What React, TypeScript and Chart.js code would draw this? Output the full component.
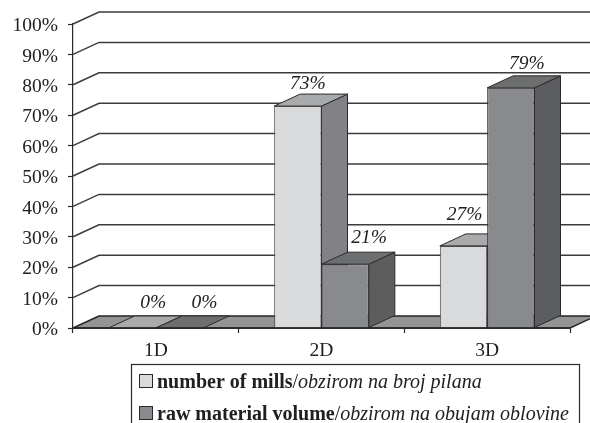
import React, { useEffect, useRef } from "react";
import { Chart, registerables } from "chart.js";

Chart.register(...registerables);

const categories = ["1D", "2D", "3D"];
const millsValues = [0, 73, 27];
const volumeValues = [0, 21, 79];
const millsLabel = "number of mills/obzirom na broj pilana";
const volumeLabel = "raw material volume/obzirom na obujam oblovine";

const FONT = '"Liberation Serif"';
const INK = "#202020";
const DEPTH_X = 26;
const DEPTH_Y = -12;

// hand-placed label offsets from the top-centre of each bar's front face [dx, dy]
const labelOffsets = [
  [[21, -25], [10, -22], [1, -31]],
  [[25, -25], [24, -26], [16, -24]],
];

const faceStyles = [
  { front: "#d9dadc", side: "#808285", top: "#a9aaac", edge: "#4a4a4a" },
  { front: "#898a8d", side: "#5c5d5f", top: "#6d6e70", edge: "#2a2a2a" },
];

function poly(ctx: CanvasRenderingContext2D, pts: number[][], fill: string, stroke: string, lw = 1) {
  ctx.beginPath();
  pts.forEach((p, i) => (i ? ctx.lineTo(p[0], p[1]) : ctx.moveTo(p[0], p[1])));
  ctx.closePath();
  ctx.fillStyle = fill;
  ctx.fill();
  ctx.lineWidth = lw;
  ctx.strokeStyle = stroke;
  ctx.lineJoin = "round";
  ctx.stroke();
}

function drawDepth(chart: any, index: number) {
  const { ctx } = chart;
  const style = faceStyles[index];
  const meta = chart.getDatasetMeta(index);
  ctx.save();
  meta.data.forEach((bar: any) => {
    const l = bar.x - bar.width / 2;
    const r = bar.x + bar.width / 2;
    const t = bar.y;
    const b = bar.base;
    if (b - t > 0.5) {
      poly(
        ctx,
        [
          [r, t],
          [r + DEPTH_X, t + DEPTH_Y],
          [r + DEPTH_X, b + DEPTH_Y],
          [r, b],
        ],
        style.side,
        "#2a2a2a"
      );
    }
    poly(
      ctx,
      [
        [l, t],
        [l + DEPTH_X, t + DEPTH_Y],
        [r + DEPTH_X, t + DEPTH_Y],
        [r, t],
      ],
      style.top,
      "#2a2a2a"
    );
  });
  ctx.restore();
}

const wallPlugin = {
  id: "wall3d",
  beforeDatasetsDraw(chart: any) {
    const { ctx, chartArea, scales } = chart;
    const { left, right } = chartArea;
    const y0 = scales.y.getPixelForValue(0);
    ctx.save();
    scales.y.ticks.forEach((t: any) => {
      if (t.value === 0) return;
      const y = scales.y.getPixelForValue(t.value);
      ctx.beginPath();
      ctx.moveTo(left, y);
      ctx.lineTo(left + DEPTH_X, y + DEPTH_Y);
      ctx.lineTo(right + DEPTH_X, y + DEPTH_Y);
      ctx.lineWidth = 1.5;
      ctx.strokeStyle = "#3c3c3c";
      ctx.stroke();
    });
    poly(
      ctx,
      [
        [left, y0],
        [left + DEPTH_X, y0 + DEPTH_Y],
        [right + DEPTH_X, y0 + DEPTH_Y],
        [right, y0],
      ],
      "#939496",
      "#262626",
      1.4
    );
    ctx.restore();
    // the first series' depth goes down first so the neighbouring bar covers it
    drawDepth(chart, 0);
  },
  afterDatasetDraw(chart: any, args: any) {
    if (args.index === 1) drawDepth(chart, 1);
  },
  afterDatasetsDraw(chart: any) {
    const { ctx, chartArea, scales } = chart;
    const y0 = scales.y.getPixelForValue(0);
    ctx.save();
    // front floor edge
    ctx.beginPath();
    ctx.moveTo(chartArea.left, y0);
    ctx.lineTo(chartArea.right, y0);
    ctx.lineWidth = 1.4;
    ctx.strokeStyle = "#262626";
    ctx.stroke();
    // value labels
    ctx.font = `italic 19.5px ${FONT}`;
    ctx.fillStyle = INK;
    ctx.textAlign = "center";
    ctx.textBaseline = "middle";
    chart.data.datasets.forEach((ds: any, d: number) => {
      chart.getDatasetMeta(d).data.forEach((bar: any, i: number) => {
        const [dx, dy] = labelOffsets[d][i];
        ctx.fillText(`${ds.data[i]}%`, bar.x + dx, bar.y + dy);
      });
    });
    // legend
    const box = { x: 131.5, y: 364.5, w: 448, h: 70 };
    ctx.fillStyle = "#ffffff";
    ctx.fillRect(box.x, box.y, box.w, box.h);
    ctx.lineWidth = 1.2;
    ctx.strokeStyle = "#2a2a2a";
    ctx.strokeRect(box.x, box.y, box.w, box.h);
    ctx.textAlign = "left";
    ctx.textBaseline = "alphabetic";
    chart.data.datasets.forEach((ds: any, d: number) => {
      const rowY = 374.5 + d * 32;
      ctx.fillStyle = faceStyles[d].front;
      ctx.fillRect(139.5, rowY, 13, 13);
      ctx.lineWidth = 1;
      ctx.strokeStyle = "#2a2a2a";
      ctx.strokeRect(139.5, rowY, 13, 13);
      const [strong, soft] = ds.label.split("/");
      const base = rowY + 13;
      ctx.fillStyle = INK;
      let x = 157;
      ctx.font = `bold 20px ${FONT}`;
      ctx.fillText(strong, x, base);
      x += ctx.measureText(strong).width;
      ctx.font = `20px ${FONT}`;
      ctx.fillText("/", x, base);
      x += ctx.measureText("/").width;
      ctx.font = `italic 20px ${FONT}`;
      ctx.fillText(soft, x, base);
    });
    ctx.restore();
  },
};

export default function App() {
  const ref = useRef<HTMLCanvasElement>(null);
  useEffect(() => {
    const chart = new Chart(ref.current!, {
      type: "bar",
      data: {
        labels: categories,
        datasets: [
          {
            label: millsLabel,
            data: millsValues,
            backgroundColor: faceStyles[0].front,
            borderColor: faceStyles[0].edge,
            borderWidth: 1,
          },
          {
            label: volumeLabel,
            data: volumeValues,
            backgroundColor: faceStyles[1].front,
            borderColor: faceStyles[1].edge,
            borderWidth: 1,
          },
        ],
      },
      options: {
        responsive: false,
        animation: false,
        layout: { padding: { top: 24, right: 20, left: 0, bottom: 0 } },
        datasets: { bar: { barPercentage: 1, categoryPercentage: 2 / 3.5 } },
        plugins: { legend: { display: false }, tooltip: { enabled: false }, title: { display: false } },
        scales: {
          x: {
            afterFit(s: any) {
              s.height = 95;
            },
            grid: { drawOnChartArea: false, drawTicks: true, tickLength: 5, tickColor: "#2a2a2a", tickWidth: 1.2 },
            border: { color: "#2a2a2a", width: 1.4 },
            ticks: { color: INK, font: { family: FONT, size: 19.5 }, padding: 6, maxRotation: 0 },
          },
          y: {
            min: 0,
            max: 100,
            afterFit(s: any) {
              s.width = 73;
            },
            grid: { drawOnChartArea: false, drawTicks: true, tickLength: 5, tickColor: "#2a2a2a", tickWidth: 1.2 },
            border: { color: "#2a2a2a", width: 1.2 },
            ticks: {
              color: INK,
              stepSize: 10,
              padding: 10,
              labelOffset: 2,
              font: { family: FONT, size: 19.5 },
              callback: (v: any) => `${v}%`,
            },
          },
        },
      } as any,
      plugins: [wallPlugin],
    });
    return () => chart.destroy();
  }, []);
  return (
    <div style={{ position: "absolute", left: 0, top: 0, width: 590, height: 423, overflow: "hidden", background: "#fff" }}>
      <canvas ref={ref} width={590} height={423} style={{ display: "block" }} />
    </div>
  );
}
